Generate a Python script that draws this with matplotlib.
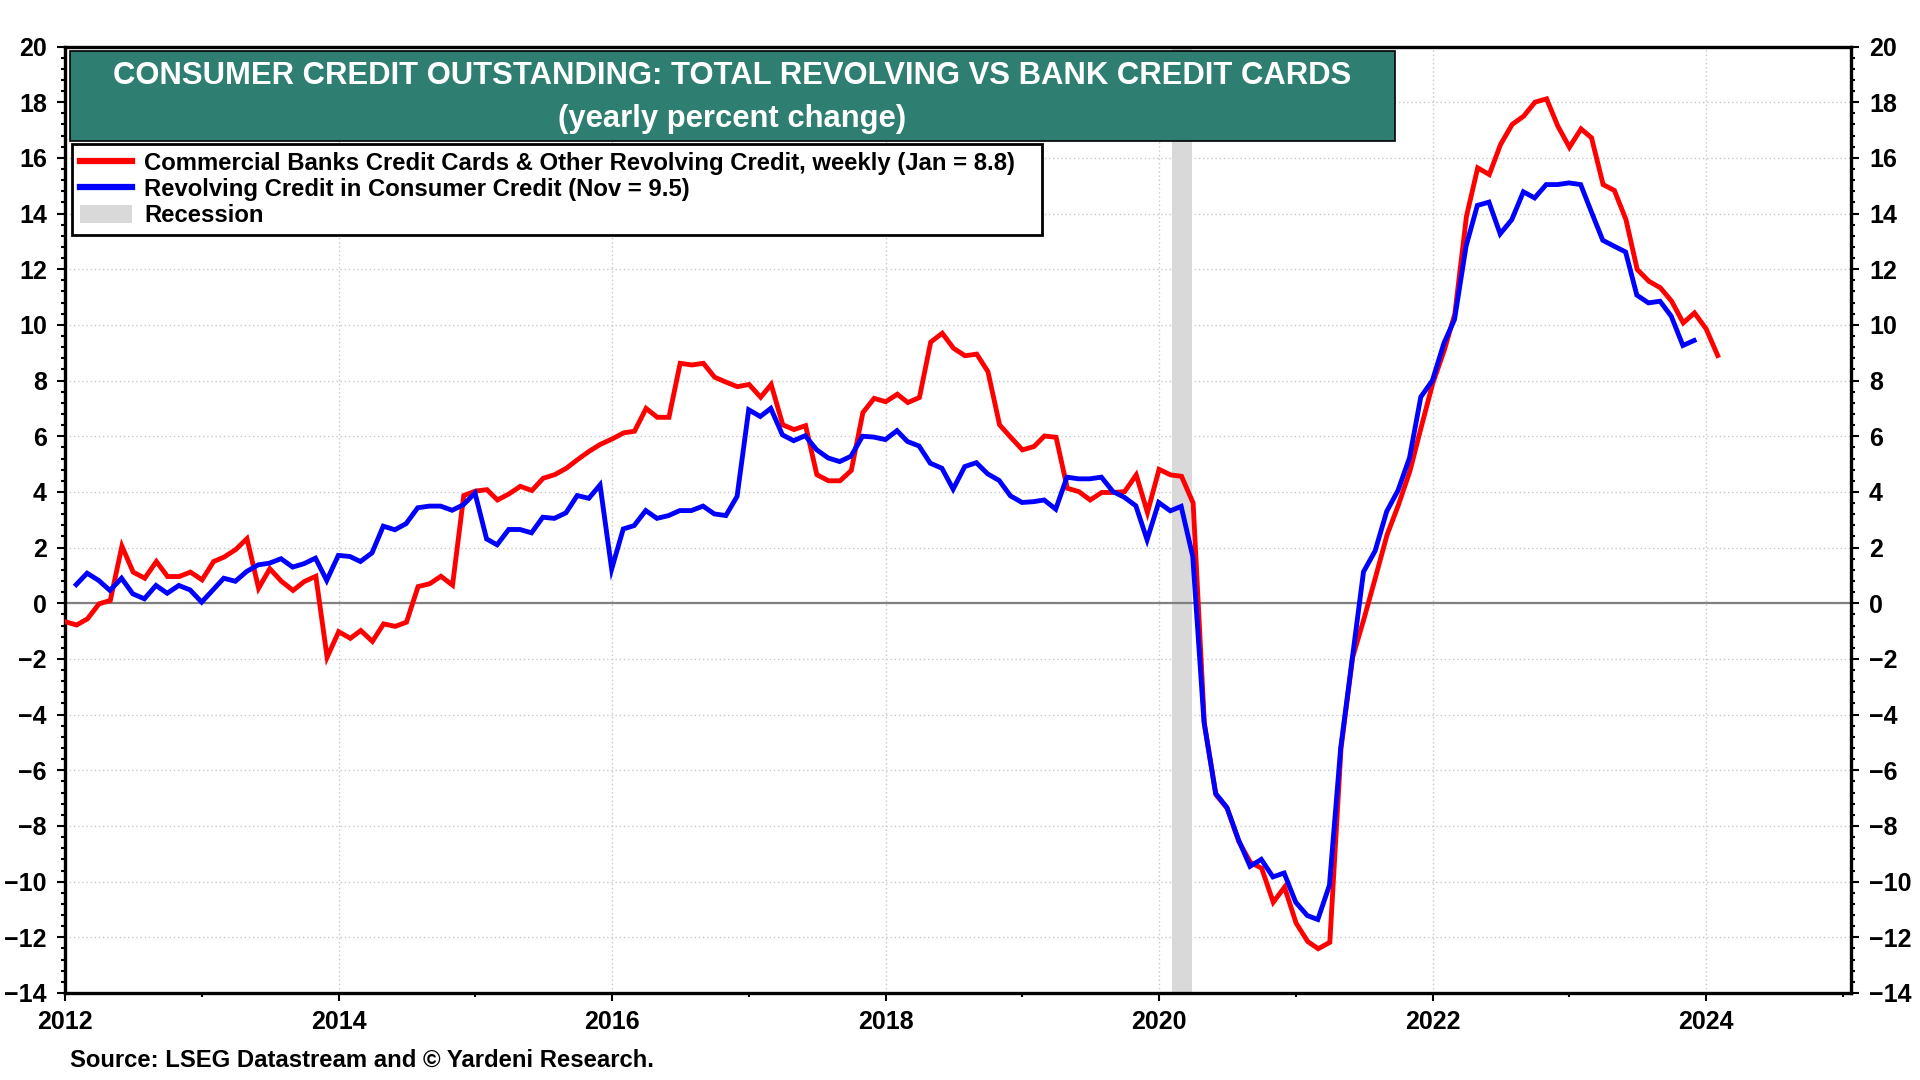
import matplotlib
matplotlib.use("Agg")
import matplotlib.pyplot as plt
import matplotlib.dates as mdates
from matplotlib.patches import Rectangle, Patch
from matplotlib.lines import Line2D
from matplotlib.ticker import MultipleLocator
import pandas as pd

# ---------------- data ----------------
red_start = "2012-01-01"   # monthly samples of weekly series (Jan 2012 - Feb 2024)
red_values = [
    -0.66, -0.78, -0.56, -0.02, 0.10, 2.05, 1.12, 0.90, 1.50, 0.96, 0.96, 1.12,
    0.84, 1.50, 1.66, 1.93, 2.32, 0.54, 1.24, 0.79, 0.46, 0.78, 0.97, -1.94,
    -1.02, -1.26, -0.98, -1.37, -0.74, -0.83, -0.68, 0.60, 0.70, 0.97, 0.65, 3.87,
    4.03, 4.08, 3.71, 3.93, 4.20, 4.05, 4.49, 4.62, 4.85, 5.16, 5.46, 5.71,
    5.90, 6.12, 6.18, 7.00, 6.68, 6.68, 8.62, 8.56, 8.62, 8.12, 7.94, 7.78,
    7.86, 7.40, 7.86, 6.41, 6.24, 6.38, 4.62, 4.40, 4.40, 4.77, 6.85, 7.36,
    7.24, 7.51, 7.21, 7.39, 9.38, 9.70, 9.16, 8.89, 8.95, 8.32, 6.41, 5.96,
    5.51, 5.63, 6.01, 5.96, 4.13, 4.01, 3.71, 3.98, 3.98, 4.01, 4.61, 3.26,
    4.81, 4.61, 4.56, 3.60, -4.33, -6.88, -7.37, -8.56, -9.31, -9.52, -10.74, -10.20,
    -11.49, -12.15, -12.41, -12.18, -5.21, -1.94, -0.57, 0.93, 2.46, 3.52, 4.75, 6.32,
    7.90, 9.10, 10.40, 13.90, 15.64, 15.40, 16.48, 17.20, 17.50, 18.00, 18.12, 17.14,
    16.38, 17.04, 16.72, 15.04, 14.83, 13.78, 11.99, 11.57, 11.33, 10.85, 10.07, 10.43,
    9.86, 8.90,
]
blue_start = "2012-01-31"  # monthly (Jan 2012 - Nov 2023), plotted at month end
blue_values = [
    0.67, 1.08, 0.82, 0.46, 0.90, 0.34, 0.16, 0.64, 0.36, 0.64, 0.48, 0.04,
    0.49, 0.90, 0.79, 1.14, 1.38, 1.44, 1.60, 1.30, 1.42, 1.62, 0.82, 1.72,
    1.68, 1.50, 1.81, 2.77, 2.64, 2.86, 3.43, 3.49, 3.49, 3.34, 3.54, 3.96,
    2.31, 2.10, 2.65, 2.65, 2.53, 3.09, 3.05, 3.25, 3.87, 3.77, 4.25, 1.23,
    2.67, 2.79, 3.33, 3.05, 3.15, 3.33, 3.33, 3.49, 3.21, 3.15, 3.84, 6.95,
    6.71, 7.00, 6.05, 5.84, 6.02, 5.52, 5.22, 5.09, 5.28, 6.00, 5.97, 5.88,
    6.20, 5.81, 5.65, 5.03, 4.85, 4.10, 4.91, 5.05, 4.65, 4.41, 3.86, 3.62,
    3.65, 3.71, 3.38, 4.53, 4.47, 4.47, 4.53, 4.01, 3.81, 3.50, 2.28, 3.62,
    3.32, 3.48, 1.68, -4.26, -6.83, -7.33, -8.49, -9.45, -9.20, -9.83, -9.69, -10.74,
    -11.22, -11.36, -10.13, -5.21, -2.00, 1.13, 1.88, 3.30, 4.05, 5.23, 7.41, 8.00,
    9.35, 10.19, 12.83, 14.29, 14.41, 13.27, 13.78, 14.78, 14.56, 15.04, 15.04, 15.10,
    15.04, 14.08, 13.04, 12.83, 12.62, 11.07, 10.79, 10.85, 10.31, 9.26, 9.44,
]
recession = ("2020-02-04", "2020-03-30")
title_lines = ["CONSUMER CREDIT OUTSTANDING: TOTAL REVOLVING VS BANK CREDIT CARDS",
               "(yearly percent change)"]
labels = ["Commercial Banks Credit Cards & Other Revolving Credit, weekly (Jan = 8.8)",
          "Revolving Credit in Consumer Credit (Nov = 9.5)",
          "Recession"]
source = "Source: LSEG Datastream and \u00a9 Yardeni Research."
year_ticks = list(range(2012, 2025, 2))

red_dates = pd.date_range(red_start, periods=len(red_values), freq="MS")
blue_dates = pd.date_range(blue_start, periods=len(blue_values), freq="ME")

# ---------------- figure ----------------
plt.rcParams["font.family"] = ["Liberation Sans", "DejaVu Sans"]
plt.rcParams["font.weight"] = "bold"

W, H = 1920, 1080
fig = plt.figure(figsize=(W / 100, H / 100), dpi=100)
L, R, T, B = 65, 1851, 46.5, 993
ax = fig.add_axes([L / W, 1 - B / H, (R - L) / W, (B - T) / H])

TEAL = "#2E7E72"
RED = "#FF0000"
BLUE = "#0000FF"
GREY = "#D9D9D9"

ax.axvspan(pd.Timestamp(recession[0]), pd.Timestamp(recession[1]),
           color=GREY, lw=0, zorder=1)
ax.axhline(0, color="#808080", lw=1.6, zorder=2)
ax.plot(red_dates, red_values, color=RED, lw=3.5, zorder=4, solid_joinstyle="miter")
ax.plot(blue_dates, blue_values, color=BLUE, lw=3.5, zorder=5, solid_joinstyle="miter")

ax.set_ylim(-14, 20)
ax.set_xlim(pd.Timestamp("2012-01-01"), pd.Timestamp("2025-01-22"))
ax.yaxis.set_major_locator(MultipleLocator(2))
ax.yaxis.set_minor_locator(MultipleLocator(0.4))
ax.set_xticks([pd.Timestamp(f"{y}-01-01") for y in year_ticks])
ax.set_xticklabels([str(y) for y in year_ticks])
ax.xaxis.set_minor_locator(mdates.YearLocator(1))

ax.grid(True, which="major", color="#C8C8C8", lw=1.0, linestyle=(0, (1, 2)))
ax.set_axisbelow(True)

for s in ax.spines.values():
    s.set_linewidth(2.4)
    s.set_color("black")

ax.tick_params(axis="y", which="both", left=True, right=True, labelleft=True,
               labelright=True, direction="out", labelsize=18, width=1.5)
ax.tick_params(axis="y", which="major", length=6, pad=7)
ax.tick_params(axis="y", which="minor", length=3)
ax.tick_params(axis="x", which="both", direction="out", labelsize=18, width=1.5)
ax.tick_params(axis="x", which="major", length=6, pad=6)
ax.tick_params(axis="x", which="minor", length=3)
for lab in ax.get_xticklabels() + ax.get_yticklabels():
    lab.set_fontweight("bold")

# title box
tx0, ty0, tx1, ty1 = 70, 51, 1395, 141
fig.patches.append(Rectangle((tx0 / W, 1 - ty1 / H), (tx1 - tx0) / W, (ty1 - ty0) / H,
                             transform=fig.transFigure, facecolor=TEAL,
                             edgecolor="black", lw=1.2, zorder=10))
cx = (tx0 + tx1) / 2 / W
fig.text(cx, 1 - 76.5 / H, title_lines[0], color="white", fontsize=22.3,
         fontweight="bold", ha="center", va="center", zorder=11)
fig.text(cx, 1 - 119 / H, title_lines[1], color="white", fontsize=22.3,
         fontweight="bold", ha="center", va="center", zorder=11)

# legend
handles = [Line2D([], [], color=RED, lw=4.5),
           Line2D([], [], color=BLUE, lw=4.5),
           Patch(facecolor=GREY, edgecolor="none")]
leg = ax.legend(handles, labels, loc="upper left",
                bbox_to_anchor=(72 / W, 1 - 145 / H, (1042 - 72) / W, 0.001),
                bbox_transform=fig.transFigure, mode="expand",
                borderaxespad=0, frameon=True, fancybox=False, framealpha=1,
                edgecolor="black", prop={"weight": "bold", "size": 17.2},
                handlelength=2.2, handleheight=0.8, handletextpad=0.5,
                labelspacing=0.14, borderpad=0.32)
leg.get_frame().set_linewidth(2.0)
leg.set_zorder(12)

fig.text(70 / W, 1 - 1060 / H, source, fontsize=17.2, fontweight="bold",
         ha="left", va="center")

fig.savefig("out.png", dpi=100)
